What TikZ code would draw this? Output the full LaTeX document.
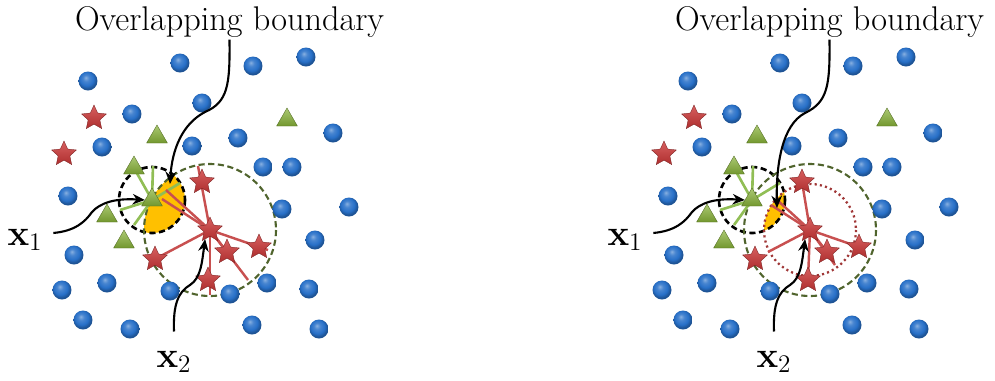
\documentclass[tikz,border=0pt]{standalone}
\usepackage{amsmath,bm}
\usepackage{xcolor}
\usepackage{tikz}
\usetikzlibrary{arrows.meta,shapes.geometric}

\definecolor{ballblue}{RGB}{40,112,200}
\definecolor{starred}{RGB}{205,55,55}
\definecolor{trigreen}{RGB}{135,178,55}
\definecolor{linkred}{RGB}{200,80,80}
\definecolor{linkgreen}{RGB}{145,190,85}
\definecolor{olivering}{RGB}{80,100,45}
\definecolor{dotred}{RGB}{160,55,55}
\definecolor{overlapfill}{RGB}{255,192,0}

\pgfdeclareradialshading{blueball}{\pgfqpoint{-6bp}{9bp}}{%
  color(0bp)=(ballblue!55!white); color(8bp)=(ballblue!85!white);
  color(18bp)=(ballblue); color(25bp)=(ballblue!75!black); color(50bp)=(ballblue!60!black)}

\pgfdeclarelayer{bg}
\pgfdeclarelayer{mid}
\pgfsetlayers{bg,mid,main}

% point positions inside one panel (pixels)
\def\bluelist{180/63,253/66,306/57,88/81,202/103,132/114,333/133,102/147,192/146,238/138,263/167,292/167,68/196,282/209,349/207,315/240,74/255,62/290,107/283,170/291,230/294,267/283,309/289,83/320,130/329,252/325,319/329}
\def\starlist{94/118,64/154,202/182,227/252,259/247,155/259,208/280}
\def\trilist{157/137,287/120,134/168,107/216,124/242}

\tikzset{
  bluept/.style={circle,inner sep=0pt,minimum size=0.38cm,shading=blueball},
  redstar/.style={star,star points=5,star point ratio=2.1,inner sep=0pt,minimum size=0.52cm,
    draw=starred!60!black,line width=0.2pt,top color=starred!80!white,bottom color=starred!85!black},
  greentri/.style={regular polygon,regular polygon sides=3,inner sep=0pt,minimum size=0.48cm,
    draw=trigreen!60!black,line width=0.2pt,top color=trigreen!70!white,bottom color=trigreen!85!black},
  lbl/.style={font=\fontsize{19.5}{23}\selectfont,inner sep=1pt},
  pointer/.style={-{Stealth[length=7pt,width=6pt]},line width=1.2pt},
  glink/.style={linkgreen,line width=1.5pt},
  rlink/.style={linkred,line width=1.4pt},
  onering/.style={black,line width=1.5pt,dash pattern=on 3.5pt off 2pt},
  tworing/.style={olivering,line width=1.2pt,dash pattern=on 3.5pt off 2pt},
  dotring/.style={dotred,line width=1.3pt,dash pattern=on 1.2pt off 1.8pt},
}

\begin{document}
\begin{tikzpicture}[x=0.02cm,y=-0.02cm]
\useasboundingbox (0,0) rectangle (995,380);
\foreach \p/\sx in {L/0,R/600}{
  \begin{scope}[shift={(\sx,0)}]
    % data points
    \foreach \x/\y [count=\i] in \bluelist
      \node[bluept] (\p-b\i) at (\x,\y) {};
    \foreach \x/\y [count=\i] in \starlist
      \node[redstar] (\p-s\i) at (\x,\y) {};
    \foreach \x/\y [count=\i] in \trilist
      \node[greentri] (\p-t\i) at (\x,\y) {};
    \node[greentri] (\p-x1) at (152,200) {};
    \node[redstar] (\p-x2) at (210,230) {};
    % labels
    \node[lbl] (\p-title) at (229.5,22) {Overlapping boundary};
    \node[lbl] (\p-lx1) at (25,240) {$\mathbf{x}_1$};
    \node[lbl] (\p-lx2) at (174,362) {$\mathbf{x}_2$};
    % ends of the x1 links
    \coordinate (\p-g1) at (153,166);
    \coordinate (\p-g2) at (120,210);
    \coordinate (\p-g3) at (134,225);
    \coordinate (\p-g4) at (180,183);
    % neighbourhoods
    \begin{pgfonlayer}{mid}
      \draw[onering] (\p-x1) circle (33);
      \draw[tworing] (\p-x2) circle (66);
      \foreach \e in {g1,g2,g3,g4,t3}
        \draw[glink] (\p-x1.center) -- (\p-\e.center);
    \end{pgfonlayer}
    % pointers
    \draw[pointer] ([xshift=5pt,yshift=4pt]\p-lx1.east) .. controls (75,231) and (85,222) .. (92,212)
      .. controls (100,203) and (115,198) .. (\p-x1.west);
    \draw[pointer] ([yshift=10pt]\p-lx2.north) .. controls (173,305) and (178,292) .. (190,285)
      .. controls (201,278) and (202,262) .. (\p-x2.-118);
  \end{scope}
}
% left panel: links reach the dashed ring
\coordinate (L-r1) at (198,166);
\coordinate (L-r2) at (162,199);
\coordinate (L-r3) at (166,190);
\coordinate (L-r4) at (210,295);
\coordinate (L-r5) at (248,280);
\coordinate (L-r6) at (268,250);
\coordinate (L-ob) at (170,184);
\begin{pgfonlayer}{bg}
  \begin{scope}
    \clip (L-x1) circle (33);
    \fill[overlapfill] (L-x2) circle (66);
  \end{scope}
\end{pgfonlayer}
\begin{pgfonlayer}{mid}
  \foreach \e in {r1,r2,r3,r4,r5,r6,s4,s6}
    \draw[rlink] (L-x2.center) -- (L-\e.center);
\end{pgfonlayer}
\draw[pointer] (L-title.south) .. controls (230,85) and (228,102) .. (205,112)
  .. controls (182,124) and (172,150) .. (L-ob);
% right panel: smaller ring for x2
\begin{scope}[shift={(600,0)}]
  \coordinate (R-r2) at (171,205);
  \coordinate (R-r3) at (176,199);
  \coordinate (R-r4) at (168,252);
  \coordinate (R-r5) at (235,265);
  \coordinate (R-ob) at (177,208);
  \begin{pgfonlayer}{bg}
    \begin{scope}
      \clip (R-x1) circle (33);
      \fill[overlapfill] (R-x2) circle (46);
    \end{scope}
  \end{pgfonlayer}
  \begin{pgfonlayer}{mid}
    \draw[dotring] (R-x2) circle (46);
    \foreach \e in {s3,r2,r3,r4,s7,r5,s4,s5}
      \draw[rlink] (R-x2.center) -- (R-\e.center);
  \end{pgfonlayer}
  \draw[pointer] (R-title.south) .. controls (230,85) and (228,102) .. (205,113)
    .. controls (182,125) and (176,165) .. (R-ob);
\end{scope}
\end{tikzpicture}
\end{document}
